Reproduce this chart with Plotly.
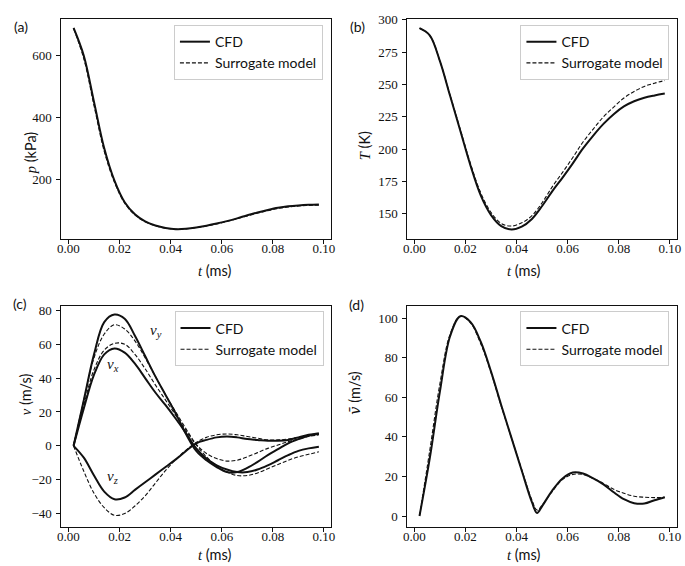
import plotly.graph_objects as go

# ---------------- data ----------------
t = [0.002, 0.006, 0.010, 0.014, 0.018, 0.022, 0.026, 0.030, 0.034, 0.038,
     0.042, 0.046, 0.050, 0.054, 0.058, 0.062, 0.066, 0.070, 0.074, 0.078,
     0.082, 0.086, 0.090, 0.094, 0.098]

p_cfd = [690, 600, 450, 300, 195, 125, 86, 63, 50, 42,
         38, 39, 43, 49, 56, 64, 73, 83, 92, 100,
         107, 112, 115, 117, 118]
p_sur = [688, 590, 438, 290, 190, 122, 84, 62, 49, 41,
         38, 39, 43, 48, 55, 63, 72, 81, 90, 98,
         105, 110, 113, 115, 116]

T_cfd = [293.5, 288, 268, 241, 214, 187, 164, 149, 140.5, 137.8,
         140, 146, 156, 167.5, 178, 189, 200.5, 210.5, 219.5, 227,
         233, 237, 239.7, 241.5, 243]
T_sur = [293.5, 288, 268, 241.5, 215, 188.5, 166, 151, 142.5, 140.5,
         143, 148.5, 158.5, 171, 182, 193.5, 205.5, 215.5, 225, 232.5,
         239.5, 244.5, 248.5, 251, 253]

vx_cfd = [0, 22, 42, 54, 57.5, 55, 48.5, 40, 31.5, 24,
          16, 7.5, -1.5, -7.5, -11.5, -14, -15.5, -15.5, -14, -11.5,
          -8.5, -5.5, -3, -1.5, -0.5]
vx_sur = [0, 24, 45, 56.5, 60.5, 60, 54, 45.5, 36, 27,
          18, 9, 0.5, -6.5, -12, -15.5, -17.5, -17.5, -16, -13.5,
          -11, -8.5, -6.5, -5, -3.5]
vy_cfd = [0, 27, 54, 73, 77.5, 75, 65, 53, 41, 30,
          19, 7, -3, -8.5, -12.5, -15.5, -15.5, -13, -9.5, -5.5,
          -2, 1.5, 4, 6, 7]
vy_sur = [0, 27, 52, 66, 71.5, 69, 62, 52, 41, 30,
          20, 10, 1, -4.5, -7.5, -9, -8.5, -6.5, -4, -1.5,
          0.5, 2.5, 4, 5.5, 6.5]
vz_cfd = [0, -7, -17.5, -27, -31.5, -30.5, -26, -21.5, -17, -12.5,
          -8, -3, 1.5, 3.5, 5, 5.5, 5, 4, 3.5, 3,
          3, 3.5, 5, 6.5, 7.5]
vz_sur = [0, -15, -28, -36.5, -41, -40, -35.5, -29.5, -22, -14.5,
          -8, -2.5, 2, 5, 6.5, 7, 6.5, 5.5, 4.5, 3.5,
          3.5, 4, 5, 6, 7]

t_d = [0.002, 0.006, 0.010, 0.014, 0.018, 0.022, 0.026, 0.030, 0.034, 0.038,
       0.042, 0.046, 0.048, 0.050, 0.054, 0.058, 0.062, 0.066, 0.070, 0.074,
       0.078, 0.082, 0.086, 0.090, 0.094, 0.098]
vbar_cfd = [0, 29, 63, 91, 101, 98, 88, 73, 56, 39.5,
            23, 7, 1.5, 5, 13, 19, 22, 21.5, 19, 16,
            12, 8.5, 6.5, 6.3, 8, 9.5]
vbar_sur = [0, 33, 67, 92, 101, 97.5, 87, 72.5, 55.5, 39.5,
            23.5, 8, 3, 5.5, 12.5, 18.5, 21, 21, 19, 16.5,
            13.5, 11.5, 10, 9.5, 9.3, 9.5]

x_ticks = [0.00, 0.02, 0.04, 0.06, 0.08, 0.10]
x_ticktext = ["0.00", "0.02", "0.04", "0.06", "0.08", "0.10"]
ya_ticks = [200, 400, 600]
yb_ticks = [150, 175, 200, 225, 250, 275, 300]
yc_ticks = [-40, -20, 0, 20, 40, 60, 80]
yc_ticktext = ["\u221240", "\u221220", "0", "20", "40", "60", "80"]
yd_ticks = [0, 20, 40, 60, 80, 100]

# ---------------- figure ----------------
W, H = 685, 566
def fx(px):
    return px / W
def fy(py):
    return 1 - py / H

SERIF = "Liberation Serif"
SANS = "Lato"
INK = "#111111"

fig = go.Figure()

def add_pair(xa, ya, x, y_cfd, y_sur, legend, show=True):
    fig.add_trace(go.Scatter(x=x, y=y_cfd, mode="lines", name="CFD",
                             line=dict(color=INK, width=2, shape="spline", smoothing=1.0),
                             xaxis=xa, yaxis=ya, legend=legend, showlegend=show))
    fig.add_trace(go.Scatter(x=x, y=y_sur, mode="lines", name="Surrogate model",
                             line=dict(color=INK, width=1.1, dash="4px,2px", shape="spline", smoothing=1.0),
                             xaxis=xa, yaxis=ya, legend=legend, showlegend=show))

add_pair("x", "y", t, p_cfd, p_sur, "legend")
add_pair("x2", "y2", t, T_cfd, T_sur, "legend2")
add_pair("x3", "y3", t, vx_cfd, vx_sur, "legend3")
add_pair("x3", "y3", t, vy_cfd, vy_sur, "legend3", show=False)
add_pair("x3", "y3", t, vz_cfd, vz_sur, "legend3", show=False)
add_pair("x4", "y4", t_d, vbar_cfd, vbar_sur, "legend4")

axis_common = dict(showline=True, linecolor=INK, linewidth=1, mirror=True,
                   ticks="outside", ticklen=4, tickwidth=1, tickcolor=INK,
                   showgrid=False, zeroline=False,
                   tickfont=dict(family=SERIF, size=13, color=INK))

xd_left = [fx(58), fx(331)]
xd_right = [fx(408), fx(681)]
yd_top = [fy(235), fy(12.3)]
yd_bot = [fy(527), fy(302.5)]
xr = [-0.0028, 0.1028]

def xaxis(domain, anchor):
    return dict(axis_common, domain=domain, anchor=anchor, range=xr,
                tickvals=x_ticks, ticktext=x_ticktext, ticklabelstandoff=-7)

def yaxis(domain, anchor, rng, vals, text=None):
    d = dict(axis_common, domain=domain, anchor=anchor, range=rng, tickvals=vals,
             ticklabelstandoff=2)
    if text is not None:
        d["ticktext"] = text
    return d

leg_common = dict(bordercolor="#cccccc", borderwidth=1, bgcolor="rgba(255,255,255,0.85)",
                  font=dict(family=SANS, size=14, color=INK), xanchor="right", yanchor="top",
                  tracegroupgap=0, itemwidth=30)

fig.update_layout(
    width=W, height=H, margin=dict(l=0, r=0, t=0, b=0),
    paper_bgcolor="white", plot_bgcolor="white",
    xaxis=xaxis(xd_left, "y"), yaxis=yaxis(yd_top, "x", [5.8, 718.4], ya_ticks),
    xaxis2=xaxis(xd_right, "y2"), yaxis2=yaxis(yd_top, "x2", [130.4, 300.5], yb_ticks),
    xaxis3=xaxis(xd_left, "y3"), yaxis3=yaxis(yd_bot, "x3", [-48.2, 82.7], yc_ticks, yc_ticktext),
    xaxis4=xaxis(xd_right, "y4"), yaxis4=yaxis(yd_bot, "x4", [-5.8, 106.3], yd_ticks),
    legend=dict(leg_common, x=fx(322.7), y=fy(18.3)),
    legend2=dict(leg_common, x=fx(673.3), y=fy(18.3)),
    legend3=dict(leg_common, x=fx(323.3), y=fy(308.3)),
    legend4=dict(leg_common, x=fx(673.3), y=fy(308.3)),
    showlegend=True,
)

def it(s, fam=SERIF):
    return '<span style="font-family:%s"><i>%s</i></span>' % (fam, s)

ann = []
# panel labels
for txt, x, y in [("(a)", 8, 9), ("(b)", 358, 9), ("(c)", 7, 300), ("(d)", 357, 301)]:
    ann.append(dict(text=txt, x=fx(x), y=fy(y), xref="paper", yref="paper",
                    showarrow=False, font=dict(family=SANS, size=14, color=INK)))
# x-axis titles (top edge of the text box given)
for x, y in [(194, 256), (544, 256), (194, 544), (544, 544)]:
    ann.append(dict(text=it("t") + " (ms)", x=fx(x), y=fy(y), xref="paper", yref="paper",
                    yanchor="top", showarrow=False,
                    font=dict(family=SANS, size=14.5, color=INK)))
# y-axis titles
for txt, x, y in [(it("p") + " (kPa)", 16.5, 123.5), (it("T") + " (K)", 365, 123.5),
                  (it("v") + " (m/s)", 12, 415), (it("v\u0304", "DejaVu Serif") + " (m/s)", 355, 415)]:
    ann.append(dict(text=txt, x=fx(x), y=fy(y), xref="paper", yref="paper", textangle=-90,
                    showarrow=False, font=dict(family=SANS, size=14.5, color=INK)))
# curve labels in panel (c)
for sub, x, y in [("y", 0.0343, 68), ("x", 0.0173, 47.7), ("z", 0.0173, -18.3)]:
    ann.append(dict(text="<i>v</i><sub><i>%s</i></sub>" % sub, x=x, y=y, xref="x3", yref="y3",
                    showarrow=False, font=dict(family=SERIF, size=15, color=INK)))
fig.update_layout(annotations=ann)

fig.write_html("out.html", config={"displayModeBar": False},
               post_script="document.body.style.margin='0';")
